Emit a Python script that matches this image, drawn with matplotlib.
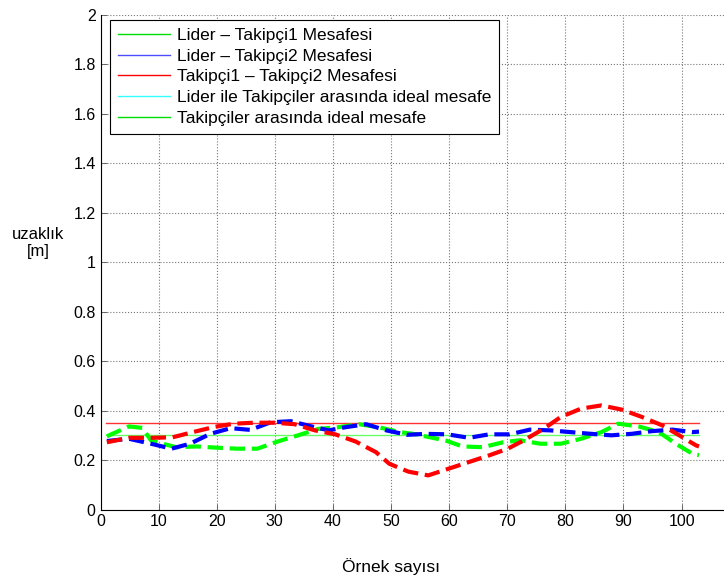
import matplotlib.pyplot as plt
from matplotlib.lines import Line2D
from matplotlib.ticker import FormatStrFormatter
import numpy as np

plt.rcParams['font.family'] = ['Liberation Sans', 'DejaVu Sans']

# distances
x_green = [1.1, 4.9, 7.2, 8.7, 10.7, 13.0, 16.5, 20.0, 23.5, 27.0, 30.5, 34.0, 37.5, 41.0,
           44.5, 48.0, 51.5, 54.4, 55.9, 59.4, 62.3, 65.8, 69.3, 72.2, 75.7, 79.2, 82.7,
           86.2, 89.1, 92.6, 96.1, 99.0, 101.9, 103.0]
y_green = [0.296, 0.336, 0.33, 0.279, 0.266, 0.252, 0.255, 0.25, 0.246, 0.246, 0.275, 0.30,
           0.326, 0.333, 0.345, 0.332, 0.313, 0.304, 0.296, 0.279, 0.255, 0.252, 0.272, 0.28,
           0.266, 0.266, 0.286, 0.313, 0.347, 0.336, 0.313, 0.266, 0.225, 0.22]

x_blue = [1.1, 4.9, 8.7, 12.2, 15.4, 18.9, 22.4, 25.8, 29.3, 32.8, 36.3, 39.3, 42.2, 45.7,
          49.2, 52.8, 55.9, 59.7, 63.4, 66.9, 70.4, 73.9, 77.4, 80.9, 84.4, 87.9, 91.4,
          94.9, 98.4, 101.9, 103.0]
y_blue = [0.277, 0.286, 0.266, 0.246, 0.266, 0.306, 0.329, 0.322, 0.353, 0.357, 0.336, 0.32,
          0.333, 0.345, 0.32, 0.302, 0.306, 0.304, 0.29, 0.304, 0.304, 0.323, 0.32, 0.313,
          0.306, 0.30, 0.306, 0.317, 0.323, 0.313, 0.315]

x_red = [1.1, 4.9, 8.7, 12.4, 15.9, 19.4, 22.9, 26.4, 29.9, 33.4, 36.9, 40.4, 43.9, 47.4,
         49.7, 53.0, 56.4, 59.9, 63.4, 66.9, 70.1, 72.8, 76.3, 79.2, 82.7, 86.2, 89.7,
         93.2, 96.7, 99.6, 102.5, 103.0]
y_red = [0.272, 0.29, 0.29, 0.292, 0.313, 0.333, 0.347, 0.351, 0.351, 0.345, 0.32, 0.304,
         0.275, 0.232, 0.185, 0.153, 0.138, 0.165, 0.192, 0.219, 0.246, 0.279, 0.327, 0.374,
         0.408, 0.421, 0.404, 0.374, 0.34, 0.30, 0.259, 0.255]

x_ideal = [1, 103]
ideal_lider = 0.35
ideal_takipci = 0.30

labels = ['Lider – Takipçi1 Mesafesi', 'Lider – Takipçi2 Mesafesi',
          'Takipçi1 – Takipçi2 Mesafesi', 'Lider ile Takipçiler arasında ideal mesafe',
          'Takipçiler arasında ideal mesafe']
legend_colors = ['#00e000', '#4d4dff', '#ff0000', '#33ffff', '#00e000']

fig = plt.figure(figsize=(7.24, 5.79), dpi=100)
ax = fig.add_axes([100.5 / 724, 1 - 509.5 / 579, 639.2 / 724, 494.5 / 579])

ax.plot(x_ideal, [ideal_lider] * 2, color='#ff3333', lw=1)
ax.plot(x_ideal, [ideal_takipci] * 2, color='#66ff66', lw=1)
ax.plot(x_green, y_green, '--', color='#00ff00', lw=3)
ax.plot(x_blue, y_blue, '--', color='#0000ff', lw=3)
ax.plot(x_red, y_red, '--', color='#ff0000', lw=3)

ax.set_xlim(0, 110)
ax.set_ylim(0, 2)
ax.set_xticks(np.arange(0, 101, 10))
ax.set_yticks(np.arange(0, 2.01, 0.2))
ax.yaxis.set_major_formatter(FormatStrFormatter('%g'))
ax.tick_params(direction='in', labelsize=11.5, length=4, width=0.6, colors='#555555',
               labelcolor='black')
ax.grid(True, linestyle=':', color='#777777', lw=0.8)
ax.spines['top'].set_visible(False)
ax.spines['right'].set_visible(False)

ax.set_xlabel('Örnek sayısı', fontsize=12.5)
ax.xaxis.set_label_coords(0.454, -0.098)
ax.set_ylabel('uzaklık\n[m]', fontsize=12, rotation=0, ha='center', va='center')
ax.yaxis.set_label_coords(-0.098, 0.539)

handles = [Line2D([], [], color=c, lw=1) for c in legend_colors]
leg = ax.legend(handles, labels, loc='upper left', bbox_to_anchor=(0.0149, 0.99),
                borderaxespad=0, fontsize=12.5, frameon=True, fancybox=False,
                framealpha=1, edgecolor='black', handlelength=3.0, borderpad=0.45,
                labelspacing=0.32, handletextpad=0.4)
leg.get_frame().set_linewidth(0.8)

fig.savefig('out.png', dpi=100)
